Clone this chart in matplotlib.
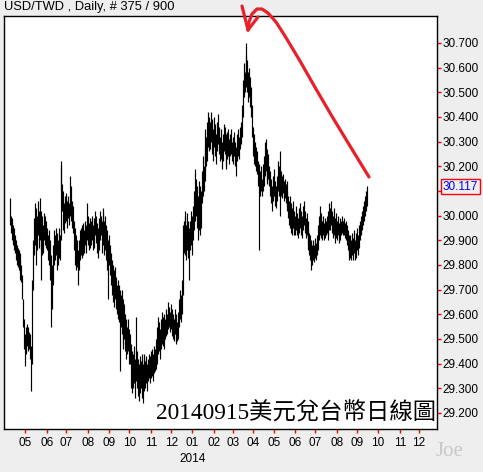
import numpy as np
import pandas as pd
import matplotlib
matplotlib.use("Agg")
import matplotlib.pyplot as plt
from matplotlib.lines import Line2D

# daily highs / lows (USD/TWD, Apr 2013 - Sep 15 2014)
highs = [
    30.07, 30.00, 29.99, 29.96, 29.95, 29.92, 29.90, 29.88, 29.87, 29.86,
    29.85, 29.82, 29.80, 29.76, 29.66, 29.58, 29.52, 29.55, 29.56, 29.55, 29.53,
    29.52, 29.47, 29.74, 29.90, 29.99, 30.05, 30.03, 30.00, 30.06, 30.02, 30.07,
    30.02, 29.98, 30.00, 29.96, 30.01, 30.00, 29.98, 29.95, 29.92, 29.94, 29.90,
    29.84, 29.80, 29.88, 29.94, 29.92, 29.95, 29.93, 29.90, 29.95, 29.92,
    30.22, 30.20, 30.13, 30.10, 30.05, 30.08, 30.09, 30.06, 30.08, 30.05,
    30.16, 30.12, 30.06, 30.04, 29.98, 29.95, 29.92, 29.90, 29.86, 29.90, 29.94,
    29.95, 29.92, 29.96, 29.97, 29.94, 29.98, 29.96, 30.05, 30.00, 29.97, 29.99,
    29.98, 30.00, 29.96, 29.99, 30.02, 30.00, 29.97, 29.95, 29.99, 30.02,
    30.00, 29.98, 30.03, 30.01, 29.98, 30.00, 29.96, 29.94, 29.90, 29.92,
    29.88, 29.85, 29.82, 29.80, 29.78, 29.79, 29.75, 29.72, 29.74, 29.72, 29.70,
    29.68, 29.70, 29.66, 29.62, 29.64, 29.60, 29.58, 29.55, 29.58, 29.54,
    29.52, 29.48, 29.45, 29.44, 29.47, 29.42, 29.59, 29.45, 29.42, 29.40, 29.43,
    29.41, 29.44, 29.40, 29.42, 29.44, 29.41, 29.43, 29.40, 29.42, 29.44,
    29.43, 29.45, 29.46, 29.44, 29.47, 29.46, 29.50, 29.55, 29.59, 29.57, 29.54,
    29.58, 29.61, 29.59, 29.56, 29.60, 29.58, 29.62, 29.60, 29.65, 29.63,
    29.61, 29.64, 29.62, 29.60, 29.58, 29.62, 29.60, 29.57, 29.61, 29.66, 29.70,
    29.68, 29.74, 29.96, 29.98, 30.02, 30.00, 29.96, 30.01, 29.98, 29.95,
    29.98, 30.02, 30.00, 30.04, 30.10, 30.19, 30.15, 30.12, 30.08, 30.14, 30.12,
    30.10, 30.18, 30.24, 30.20, 30.28, 30.35, 30.32, 30.38, 30.42, 30.40,
    30.38, 30.42, 30.39, 30.35, 30.40, 30.37, 30.33, 30.38, 30.41, 30.36, 30.32,
    30.35, 30.30, 30.33, 30.37, 30.36, 30.33, 30.30, 30.34, 30.35, 30.31,
    30.33, 30.35, 30.30, 30.32, 30.34, 30.30, 30.28, 30.33, 30.35, 30.32, 30.36,
    30.38, 30.45, 30.55, 30.62, 30.58, 30.70, 30.65, 30.63, 30.58, 30.60,
    30.56, 30.52, 30.45, 30.36, 30.33, 30.30, 30.28, 30.26, 30.22, 30.21, 30.18,
    30.20, 30.15, 30.21, 30.24, 30.30, 30.31, 30.27, 30.22, 30.25, 30.20,
    30.18, 30.15, 30.12, 30.16, 30.19, 30.14, 30.12, 30.16, 30.22, 30.20, 30.26,
    30.18, 30.16, 30.17, 30.14, 30.15, 30.13, 30.14, 30.10, 30.08, 30.06,
    30.08, 30.05, 30.03, 30.06, 30.02, 30.00, 30.04, 30.01, 29.99, 30.03, 30.05,
    30.02, 30.00, 30.04, 30.06, 30.02, 29.99, 30.01, 29.98, 29.95, 29.93,
    29.92, 29.90, 29.88, 29.90, 29.88, 29.91, 29.89, 29.92, 29.96, 30.00, 30.04,
    30.01, 29.98, 30.00, 29.97, 29.99, 29.98, 30.00, 29.97, 30.02, 30.05,
    30.03, 30.06, 30.02, 30.00, 30.03, 29.99, 30.01, 29.98, 30.00, 29.97, 29.99,
    29.98, 30.00, 29.98, 29.99, 29.97, 29.98, 29.96, 29.94, 29.92, 29.90,
    29.92, 29.90, 29.93, 29.91, 29.94, 29.90, 29.93, 29.95, 29.92,
    29.96, 29.98, 30.00, 30.02, 30.04, 30.06, 30.08, 30.10, 30.12,
]
lows = [
    29.96, 29.93, 29.90, 29.88, 29.86, 29.85, 29.82, 29.80, 29.79, 29.78,
    29.77, 29.74, 29.73, 29.66, 29.55, 29.46, 29.39, 29.44, 29.47, 29.45, 29.46,
    29.42, 29.29, 29.40, 29.70, 29.84, 29.88, 29.80, 29.86, 29.92, 29.87, 29.90,
    29.74, 29.86, 29.84, 29.85, 29.90, 29.88, 29.87, 29.86, 29.82, 29.80, 29.74,
    29.55, 29.62, 29.72, 29.80, 29.82, 29.84, 29.78, 29.80, 29.83, 29.82,
    29.90, 30.10, 30.02, 29.94, 29.93, 29.97, 29.98, 29.95, 29.99, 29.96,
    30.00, 29.98, 29.95, 29.93, 29.86, 29.80, 29.78, 29.79, 29.72, 29.78, 29.82,
    29.84, 29.83, 29.86, 29.84, 29.85, 29.88, 29.85, 29.90, 29.88, 29.86, 29.87,
    29.88, 29.90, 29.86, 29.87, 29.92, 29.89, 29.85, 29.83, 29.86, 29.90,
    29.92, 29.85, 29.90, 29.88, 29.84, 29.86, 29.82, 29.78, 29.66, 29.80,
    29.76, 29.72, 29.68, 29.65, 29.63, 29.66, 29.62, 29.60, 29.58, 29.57, 29.37,
    29.55, 29.52, 29.48, 29.46, 29.50, 29.45, 29.42, 29.44, 29.45, 29.40,
    29.40, 29.30, 29.28, 29.30, 29.32, 29.26, 29.33, 29.30, 29.27, 29.25, 29.28,
    29.30, 29.26, 29.24, 29.29, 29.31, 29.30, 29.32, 29.29, 29.33, 29.34,
    29.32, 29.34, 29.35, 29.33, 29.36, 29.37, 29.38, 29.40, 29.44, 29.45, 29.42,
    29.46, 29.48, 29.47, 29.46, 29.49, 29.50, 29.51, 29.52, 29.54, 29.55,
    29.53, 29.54, 29.51, 29.50, 29.49, 29.52, 29.48, 29.49, 29.50, 29.55, 29.58,
    29.57, 29.60, 29.68, 29.85, 29.88, 29.84, 29.82, 29.86, 29.83, 29.74,
    29.86, 29.88, 29.84, 29.90, 29.94, 29.98, 30.00, 29.95, 29.90, 29.94, 29.92,
    29.95, 30.05, 30.08, 30.10, 30.14, 30.19, 30.20, 30.22, 30.28, 30.26,
    30.27, 30.30, 30.25, 30.22, 30.28, 30.24, 30.21, 30.26, 30.29, 30.25, 30.22,
    30.23, 30.19, 30.22, 30.26, 30.25, 30.20, 30.19, 30.23, 30.24, 30.21,
    30.24, 30.25, 30.22, 30.21, 30.24, 30.20, 30.16, 30.22, 30.24, 30.23, 30.27,
    30.29, 30.32, 30.40, 30.48, 30.50, 30.55, 30.52, 30.50, 30.46, 30.48,
    30.44, 30.40, 30.32, 30.24, 30.21, 30.20, 30.18, 30.17, 30.12, 29.86, 30.08,
    30.10, 30.08, 30.10, 30.12, 30.16, 30.18, 30.14, 30.13, 30.15, 30.12,
    30.08, 30.05, 30.02, 30.06, 30.08, 30.04, 30.03, 30.06, 30.10, 30.08, 30.00,
    30.08, 30.07, 30.09, 30.06, 30.07, 30.05, 30.04, 30.02, 29.99, 29.96,
    29.95, 29.93, 29.92, 29.95, 29.92, 29.92, 29.94, 29.92, 29.91, 29.93, 29.95,
    29.92, 29.91, 29.94, 29.96, 29.93, 29.91, 29.92, 29.88, 29.86, 29.84,
    29.82, 29.78, 29.80, 29.82, 29.81, 29.83, 29.82, 29.84, 29.86, 29.90, 29.92,
    29.91, 29.90, 29.92, 29.90, 29.91, 29.92, 29.93, 29.90, 29.92, 29.94,
    29.94, 29.96, 29.93, 29.91, 29.92, 29.89, 29.91, 29.90, 29.92, 29.89, 29.90,
    29.92, 29.93, 29.92, 29.92, 29.91, 29.90, 29.88, 29.86, 29.84, 29.82,
    29.83, 29.82, 29.84, 29.82, 29.85, 29.82, 29.83, 29.86, 29.84,
    29.87, 29.90, 29.92, 29.94, 29.96, 29.98, 30.00, 30.02, 30.04,
]
last_price = 30.117
last_date = "2014-09-15"
y_ticks = [29.2, 29.3, 29.4, 29.5, 29.6, 29.7, 29.8, 29.9,
           30.0, 30.1, 30.2, 30.3, 30.4, 30.5, 30.6, 30.7]
title = "USD/TWD , Daily, # 375 / 900"
caption = "20140915美元兌台幣日線圖"

BG = "#eeeeee"
W, H = 483, 472

# x axis = business-day index on a fixed calendar
calendar = pd.bdate_range("2013-03-01", "2015-01-31")
bar_dates = pd.bdate_range(end=last_date, periods=len(highs))
bar_x = calendar.get_indexer(bar_dates)
month_starts = [calendar[calendar >= d][0] for d in pd.date_range("2013-05-01", "2014-12-01", freq="MS")]
tick_x = calendar.get_indexer(month_starts)
tick_lbl = [d.strftime("%m") for d in month_starts]

plt.rcParams["font.family"] = ["Liberation Sans", "DejaVu Sans"]

fig = plt.figure(figsize=(W / 100, H / 100), dpi=100, facecolor=BG)
ax = fig.add_axes([4 / W, 43 / H, 433 / W, 413 / H])
ax.set_facecolor("white")

ax.vlines(bar_x, lows, highs, color="black", linewidth=0.85, antialiased=True)

ax.set_ylim(29.135, 30.809)
ax.set_xlim(tick_x[0] - 22.3, tick_x[-1] + 18.8)

ax.yaxis.tick_right()
ax.set_yticks(y_ticks)
ax.set_yticklabels([f"{v:.3f}" for v in y_ticks])
ax.set_xticks(tick_x)
ax.set_xticklabels(tick_lbl)
ax.tick_params(axis="both", color="red", labelcolor="black", length=3, width=1,
               direction="out", labelsize=8.5)
ax.tick_params(axis="y", pad=1)
ax.tick_params(axis="x", pad=3)
for s in ax.spines.values():
    s.set_color("black")
    s.set_linewidth(1)

jan = tick_x[tick_lbl.index("01")]
ax.text(jan, -0.072, "2014", transform=ax.get_xaxis_transform(),
        ha="center", va="center", fontsize=8.5)

# last price box
ax.annotate(f"{last_price:.3f}", xy=(1, last_price), xycoords=ax.get_yaxis_transform(),
            xytext=(6, 0), textcoords="offset pixels", va="center", ha="left",
            color="blue", fontsize=8.5, annotation_clip=False, zorder=5,
            bbox=dict(boxstyle="square,pad=0.15", fc=BG, ec="red", lw=1))

ax.text(0.997, 0.012, caption, transform=ax.transAxes, ha="right", va="bottom",
        fontsize=16.8, family=["Liberation Serif", "Noto Sans CJK TC"], color="black")

fig.text(4 / W, 1 - 7 / H, title, ha="left", va="center", fontsize=9.3)
fig.text(450 / W, 1 - 451 / H, "Joe", ha="center", va="center", fontsize=15,
         color="#c8c8c8", family="Liberation Serif")

# hand drawn red arrow (figure pixels)
def px(pts):
    xs = [p[0] / W for p in pts]
    ys = [1 - p[1] / H for p in pts]
    return xs, ys

strokes = [
    [(242, 6), (248, 30)],
    [(248, 30), (258, 17)],
    [(248, 30), (249, 22), (252, 14), (257, 9), (262, 9), (268, 13), (276, 22),
     (285, 36), (300, 61), (316, 89), (333, 118), (350, 146), (369, 177)],
]
for st in strokes:
    xs, ys = px(st)
    fig.add_artist(Line2D(xs, ys, transform=fig.transFigure, color="#e8202a",
                          linewidth=2.3, solid_capstyle="round", solid_joinstyle="round"))

fig.savefig("out.png", dpi=100, facecolor=BG)
